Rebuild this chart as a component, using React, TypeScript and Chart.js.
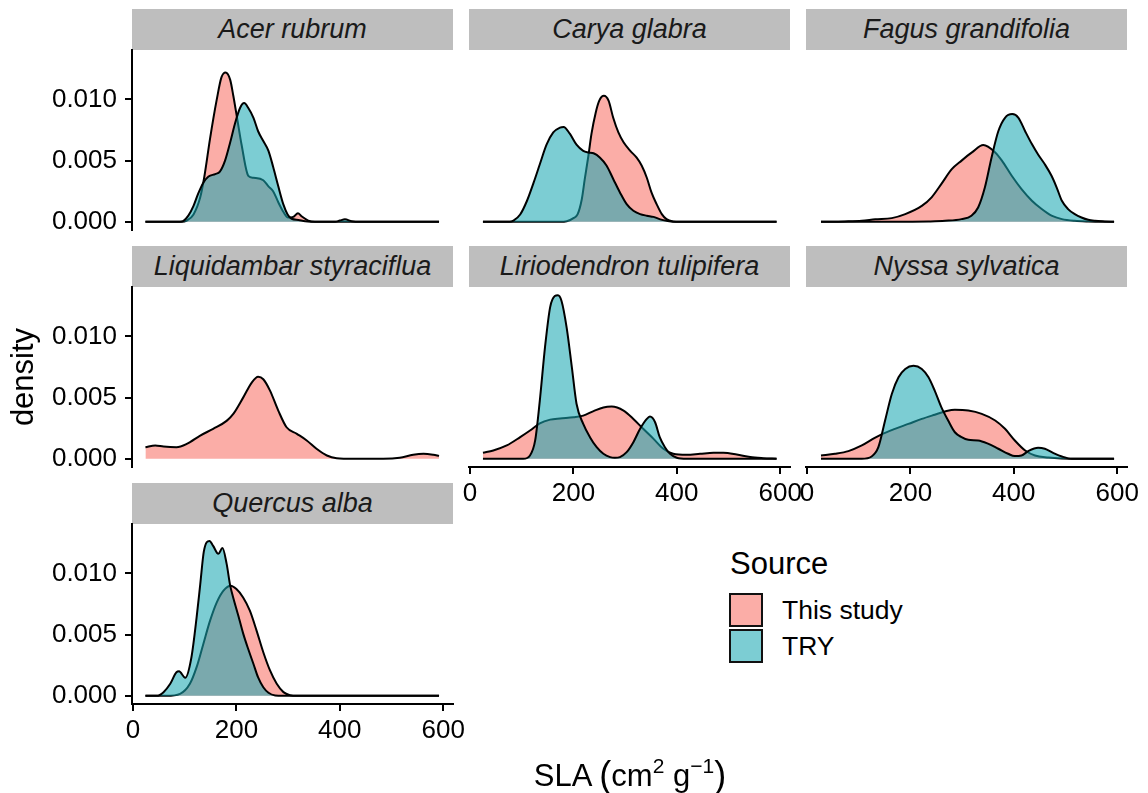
import React, { useEffect, useRef } from 'react';
import { Chart, registerables } from 'chart.js';

Chart.register(...registerables);

const species = [
  'Acer rubrum',
  'Carya glabra',
  'Fagus grandifolia',
  'Liquidambar styraciflua',
  'Liriodendron tulipifera',
  'Nyssa sylvatica',
  'Quercus alba',
];
const sources = ['This study', 'TRY'];
const xTicks = [0, 200, 400, 600];
const yTicks = [0, 0.005, 0.01];

// Acer rubrum
const acerStudyX = [24, 94, 104, 117, 130, 138, 149, 162, 171, 179, 188, 194, 202, 210, 223, 233, 252, 262, 271, 281, 291, 300, 310, 319, 326, 339, 352, 592];
const acerStudyY = [0, 0, 0.0001, 0.0006, 0.002, 0.0037, 0.0068, 0.01, 0.0118, 0.0122, 0.0116, 0.0103, 0.0083, 0.0063, 0.00376, 0.0036, 0.0034, 0.0029, 0.0025, 0.0016, 0.0008, 0.00035, 0.0004, 0.0007, 0.00045, 0.0001, 0, 0];
const acerTryX = [24, 91, 97, 107, 117, 126, 136, 146, 159, 168, 178, 188, 197, 207, 215, 223, 233, 242, 252, 262, 271, 281, 291, 299, 307, 320, 333, 355, 391, 400, 410, 423, 439, 592];
const acerTryY = [0, 0, 0.00005, 0.0005, 0.0013, 0.0023, 0.0032, 0.0037, 0.0039, 0.0041, 0.005, 0.0065, 0.008, 0.0093, 0.0097, 0.0093, 0.0085, 0.0074, 0.0066, 0.0058, 0.0045, 0.0029, 0.0014, 0.0006, 0.00025, 0.00015, 0.00005, 0, 0, 0.0001, 0.0002, 0.00005, 0, 0];

// Carya glabra
const caryaStudyX = [25, 174, 187, 200, 208, 216, 222, 229, 235, 243, 250, 259, 268, 277, 287, 297, 310, 322, 332, 342, 351, 361, 371, 380, 393, 406, 593];
const caryaStudyY = [0, 0, 0.00005, 0.0003, 0.0006, 0.0018, 0.0035, 0.0054, 0.0072, 0.0089, 0.0099, 0.0103, 0.0099, 0.0085, 0.0073, 0.0065, 0.0058, 0.00526, 0.0046, 0.0036, 0.0024, 0.00144, 0.00063, 0.00022, 0.00003, 0, 0];
const caryaTryX = [25, 77, 84, 97, 110, 123, 135, 148, 161, 174, 181, 193, 206, 219, 229, 239, 251, 264, 277, 290, 303, 316, 329, 342, 355, 368, 380, 393, 593];
const caryaTryY = [0, 0, 0.0001, 0.0006, 0.0017, 0.0032, 0.0047, 0.0063, 0.0073, 0.0077, 0.00775, 0.0072, 0.0063, 0.0058, 0.00567, 0.0056, 0.00526, 0.0046, 0.0035, 0.0024, 0.00144, 0.0009, 0.00063, 0.0005, 0.0004, 0.0002, 0.00008, 0, 0];

// Fagus grandifolia
const fagusStudyX = [27, 73, 106, 132, 164, 190, 222, 241, 260, 280, 299, 319, 341, 364, 377, 396, 415, 435, 454, 473, 493, 518, 544, 594];
const fagusStudyY = [0, 0.00003, 0.00008, 0.0002, 0.0003, 0.00063, 0.0013, 0.002, 0.0031, 0.0043, 0.005, 0.00567, 0.00627, 0.00567, 0.005, 0.00376, 0.00267, 0.00172, 0.00104, 0.0005, 0.00022, 0.00008, 0.00003, 0];
const fagusTryX = [27, 170, 235, 267, 299, 318, 331, 344, 357, 370, 383, 397, 409, 422, 435, 447, 460, 473, 483, 493, 505, 518, 531, 544, 557, 576, 594];
const fagusTryY = [0, 0, 0.00003, 0.00008, 0.00022, 0.0005, 0.00117, 0.0028, 0.00526, 0.0074, 0.0085, 0.0088, 0.0085, 0.0074, 0.00635, 0.0055, 0.0047, 0.00376, 0.0028, 0.00172, 0.00104, 0.00063, 0.00035, 0.00016, 0.00008, 0.00003, 0];

// Liquidambar styraciflua
const liquidStudyX = [24, 43, 59, 84, 104, 130, 155, 181, 194, 213, 230, 242, 252, 265, 281, 297, 317, 336, 355, 375, 394, 426, 484, 516, 542, 562, 581, 592];
const liquidStudyY = [0.00095, 0.00109, 0.001, 0.00095, 0.00122, 0.0019, 0.00245, 0.0031, 0.00367, 0.005, 0.00625, 0.0067, 0.0065, 0.00557, 0.00394, 0.00258, 0.00204, 0.0015, 0.00082, 0.00027, 0.00005, 0, 0, 0.00008, 0.00033, 0.00041, 0.00033, 0.00024];

// Liriodendron tulipifera
const lirioStudyX = [25, 45, 71, 97, 116, 135, 155, 174, 200, 219, 239, 258, 274, 297, 316, 335, 355, 374, 393, 419, 445, 471, 490, 516, 542, 567, 593];
const lirioStudyY = [0.00049, 0.00068, 0.00109, 0.00177, 0.00231, 0.0029, 0.0032, 0.0033, 0.0034, 0.00353, 0.0039, 0.0042, 0.00427, 0.00394, 0.00326, 0.00245, 0.00163, 0.00082, 0.00041, 0.00033, 0.00041, 0.00049, 0.00049, 0.00035, 0.00014, 0.00005, 0];
const lirioTryX = [25, 103, 116, 126, 135, 145, 155, 164, 170, 177, 187, 197, 206, 219, 232, 245, 258, 271, 280, 290, 303, 316, 329, 342, 348, 358, 367, 377, 387, 400, 419, 593];
const lirioTryY = [0, 0, 0.00027, 0.0015, 0.00476, 0.0091, 0.0124, 0.0133, 0.01337, 0.0129, 0.0107, 0.00747, 0.0045, 0.00285, 0.00177, 0.00095, 0.00041, 0.00014, 0.00008, 0.00014, 0.00054, 0.00136, 0.00245, 0.00326, 0.00345, 0.00299, 0.00177, 0.00095, 0.00041, 0.00008, 0, 0];

// Nyssa sylvatica
const nyssaStudyX = [27, 54, 80, 106, 131, 146, 170, 196, 222, 247, 270, 286, 312, 338, 364, 383, 402, 422, 441, 467, 493, 525, 594];
const nyssaStudyY = [0.00027, 0.00041, 0.00063, 0.00109, 0.00171, 0.00204, 0.00245, 0.00285, 0.00326, 0.0036, 0.0039, 0.004, 0.00394, 0.00367, 0.00313, 0.00245, 0.0015, 0.00068, 0.00027, 0.00011, 0.00003, 0, 0];
const nyssaTryX = [27, 106, 125, 138, 151, 164, 177, 190, 206, 222, 235, 247, 260, 273, 286, 299, 312, 331, 351, 370, 389, 402, 415, 428, 447, 460, 476, 493, 512, 594];
const nyssaTryY = [0, 0, 0.00019, 0.00095, 0.00313, 0.0053, 0.00666, 0.00734, 0.0076, 0.00734, 0.00666, 0.00557, 0.0042, 0.00313, 0.00217, 0.00177, 0.00155, 0.0015, 0.00122, 0.00082, 0.00041, 0.00022, 0.00027, 0.00063, 0.0009, 0.00082, 0.00049, 0.00019, 0, 0];

// Quercus alba
const quercusStudyX = [24, 65, 91, 110, 123, 136, 149, 162, 175, 189, 200, 213, 226, 239, 252, 265, 278, 291, 304, 317, 592];
const quercusStudyY = [0, 0, 0.00016, 0.00098, 0.00234, 0.00424, 0.00614, 0.00764, 0.0086, 0.009, 0.00872, 0.00804, 0.00696, 0.00533, 0.00356, 0.00207, 0.00098, 0.0003, 0.00005, 0, 0];
const quercusTryX = [24, 46, 59, 72, 84, 89, 101, 113, 123, 130, 137, 148, 155, 165, 173, 181, 188, 194, 204, 213, 223, 233, 242, 252, 262, 275, 290, 592];
const quercusTryY = [0, 0, 0.0003, 0.00098, 0.00193, 0.002, 0.00147, 0.00315, 0.0064, 0.0091, 0.0118, 0.01266, 0.01225, 0.0116, 0.01207, 0.0108, 0.009, 0.008, 0.0065, 0.0051, 0.0038, 0.0026, 0.0015, 0.0007, 0.00025, 0.00003, 0, 0];

const X_MIN = -2;
const X_MAX = 619;
const Y_MIN = -0.00067;
const Y_MAX = 0.01404;

const FONT = "'Liberation Sans', Arial, Helvetica, sans-serif";
const FILLS = ['rgba(248,118,109,0.6)', 'rgba(25,167,178,0.57)'];
const KEY_FILLS = ['rgb(251,173,167)', 'rgb(124,205,211)'];

const PANEL_W = 321;
const PANEL_H = 180;
const COL_LEFT = [132, 469, 806];
const ROW_TOP = [50, 287, 524];
const STRIP_H = 41;
const PAD_L = 100;
const PAD_R = 32;
const PAD_T = 30;
const PAD_B = 52;
const Y_AXIS_W = 94;
const X_AXIS_H = 46;

type Series = { source: number; xs: number[]; ys: number[] };
type PanelSpec = { name: string; col: number; row: number; series: Series[] };

const panels: PanelSpec[] = [
  { name: species[0], col: 0, row: 0, series: [{ source: 0, xs: acerStudyX, ys: acerStudyY }, { source: 1, xs: acerTryX, ys: acerTryY }] },
  { name: species[1], col: 1, row: 0, series: [{ source: 0, xs: caryaStudyX, ys: caryaStudyY }, { source: 1, xs: caryaTryX, ys: caryaTryY }] },
  { name: species[2], col: 2, row: 0, series: [{ source: 0, xs: fagusStudyX, ys: fagusStudyY }, { source: 1, xs: fagusTryX, ys: fagusTryY }] },
  { name: species[3], col: 0, row: 1, series: [{ source: 0, xs: liquidStudyX, ys: liquidStudyY }] },
  { name: species[4], col: 1, row: 1, series: [{ source: 0, xs: lirioStudyX, ys: lirioStudyY }, { source: 1, xs: lirioTryX, ys: lirioTryY }] },
  { name: species[5], col: 2, row: 1, series: [{ source: 0, xs: nyssaStudyX, ys: nyssaStudyY }, { source: 1, xs: nyssaTryX, ys: nyssaTryY }] },
  { name: species[6], col: 0, row: 2, series: [{ source: 0, xs: quercusStudyX, ys: quercusStudyY }, { source: 1, xs: quercusTryX, ys: quercusTryY }] },
];

function Panel({ spec }: { spec: PanelSpec }) {
  const ref = useRef<HTMLCanvasElement | null>(null);
  const showY = spec.col === 0;
  const showX = spec.row === 2 || (spec.row === 1 && spec.col > 0);
  const left = COL_LEFT[spec.col] - PAD_L;
  const top = ROW_TOP[spec.row] - PAD_T;
  const width = PAD_L + PANEL_W + PAD_R;
  const height = PAD_T + PANEL_H + PAD_B;

  useEffect(() => {
    if (!ref.current) return;
    const axisGrid = {
      display: true,
      drawOnChartArea: false,
      drawTicks: true,
      tickLength: 7,
      color: '#000',
      lineWidth: 2,
    };
    const chart = new Chart(ref.current, {
      type: 'line',
      data: {
        datasets: spec.series.map((s) => ({
          label: sources[s.source],
          data: s.xs.map((x, i) => ({ x, y: s.ys[i] })),
          order: s.source === 0 ? 2 : 1,
          borderColor: '#000',
          borderWidth: 2,
          backgroundColor: FILLS[s.source],
          fill: 'origin',
          pointRadius: 0,
          cubicInterpolationMode: 'monotone',
          borderJoinStyle: 'round',
        })),
      },
      options: {
        animation: false,
        responsive: false,
        maintainAspectRatio: false,
        devicePixelRatio: 1,
        events: [],
        layout: {
          padding: {
            left: showY ? PAD_L - Y_AXIS_W : PAD_L,
            right: PAD_R,
            top: PAD_T,
            bottom: showX ? PAD_B - X_AXIS_H : PAD_B,
          },
        },
        plugins: {
          legend: { display: false },
          tooltip: { enabled: false },
          title: { display: false },
        },
        scales: {
          x: {
            type: 'linear',
            min: X_MIN,
            max: X_MAX,
            display: showX,
            afterBuildTicks: (scale: any) => {
              scale.ticks = xTicks.map((v) => ({ value: v }));
            },
            afterFit: (scale: any) => {
              if (showX) scale.height = X_AXIS_H;
            },
            grid: axisGrid,
            border: { display: true, color: '#000', width: 2 },
            ticks: {
              autoSkip: false,
              maxRotation: 0,
              minRotation: 0,
              padding: 4,
              color: '#000',
              font: { family: FONT, size: 26 },
              callback: (v: any) => String(v),
            },
          },
          y: {
            type: 'linear',
            min: Y_MIN,
            max: Y_MAX,
            display: showY,
            afterBuildTicks: (scale: any) => {
              scale.ticks = yTicks.map((v) => ({ value: v }));
            },
            afterFit: (scale: any) => {
              if (showY) scale.width = Y_AXIS_W;
            },
            grid: axisGrid,
            border: { display: true, color: '#000', width: 2 },
            ticks: {
              autoSkip: false,
              padding: 8,
              color: '#000',
              font: { family: FONT, size: 26 },
              callback: (v: any) => Number(v).toFixed(3),
            },
          },
        },
      } as any,
    } as any);
    return () => chart.destroy();
  }, []);

  return (
    <>
      <div
        style={{
          position: 'absolute',
          left: COL_LEFT[spec.col],
          top: ROW_TOP[spec.row] - STRIP_H,
          width: PANEL_W,
          height: STRIP_H,
          background: '#bebebe',
          fontFamily: FONT,
          fontStyle: 'italic',
          fontSize: 27,
          lineHeight: `${STRIP_H}px`,
          textAlign: 'center',
          color: '#1a1a1a',
          whiteSpace: 'nowrap',
        }}
      >
        {spec.name}
      </div>
      <canvas
        ref={ref}
        width={width}
        height={height}
        style={{ position: 'absolute', left, top, width, height }}
      />
    </>
  );
}

export default function App() {
  return (
    <div
      style={{
        position: 'fixed',
        left: 0,
        top: 0,
        width: 1148,
        height: 793,
        background: '#fff',
        overflow: 'hidden',
        fontFamily: FONT,
        color: '#000',
      }}
    >
      {panels.map((p) => (
        <Panel key={p.name} spec={p} />
      ))}

      {/* y-axis title */}
      <div
        style={{
          position: 'absolute',
          left: 23 - 80,
          top: 377 - 20,
          width: 160,
          height: 40,
          lineHeight: '40px',
          fontSize: 31,
          textAlign: 'center',
          transform: 'rotate(-90deg)',
        }}
      >
        density
      </div>

      {/* x-axis title */}
      <div
        style={{
          position: 'absolute',
          left: 430,
          top: 754,
          width: 400,
          height: 40,
          lineHeight: '40px',
          fontSize: 31,
          textAlign: 'center',
          whiteSpace: 'nowrap',
        }}
      >
        SLA <span style={{ fontSize: 36, position: 'relative', top: 1 }}>(</span>cm
        <span style={{ fontSize: 21, position: 'relative', top: -13 }}>2</span>
        {' g'}
        <span style={{ fontSize: 21, position: 'relative', top: -13 }}>−1</span>
        <span style={{ fontSize: 36, position: 'relative', top: 1 }}>)</span>
      </div>

      {/* legend */}
      <div
        style={{
          position: 'absolute',
          left: 730,
          top: 544,
          height: 40,
          lineHeight: '40px',
          fontSize: 31,
          whiteSpace: 'nowrap',
        }}
      >
        Source
      </div>
      {sources.map((s, i) => (
        <React.Fragment key={s}>
          <div
            style={{
              position: 'absolute',
              left: 729,
              top: 593 + i * 36,
              width: 34,
              height: 34,
              boxSizing: 'border-box',
              border: '2px solid #111',
              background: KEY_FILLS[i],
            }}
          />
          <div
            style={{
              position: 'absolute',
              left: 782,
              top: 610 + i * 36 - 20,
              height: 40,
              lineHeight: '40px',
              fontSize: 26.5,
              whiteSpace: 'nowrap',
            }}
          >
            {s}
          </div>
        </React.Fragment>
      ))}
    </div>
  );
}
